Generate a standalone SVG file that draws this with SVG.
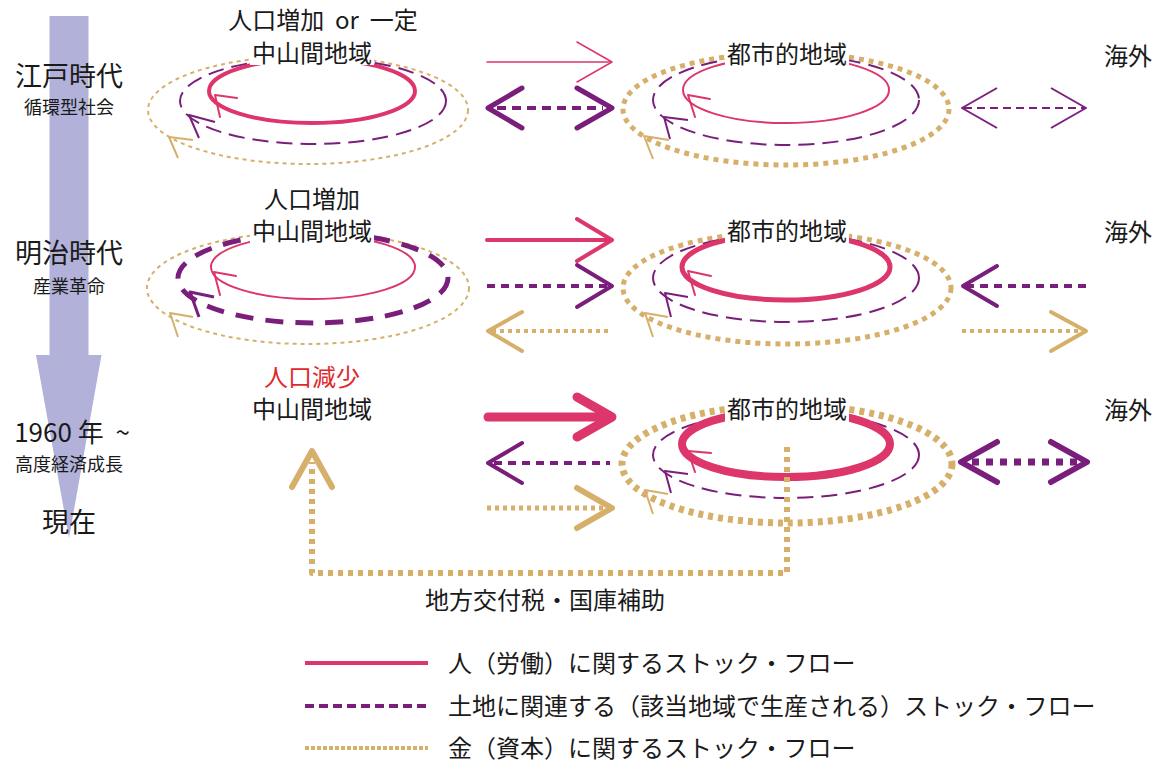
<svg xmlns="http://www.w3.org/2000/svg" width="1159" height="762" viewBox="0 0 1159 762">
<style>
text{font-family:"Noto Sans CJK JP","Noto Sans",sans-serif;fill:#1a1a1a}
.t24{font-size:24px}.mid{text-anchor:middle}
.pk{stroke:#dc366b;fill:none;stroke-linecap:round;stroke-linejoin:round}
.pu{stroke:#7a1e7b;fill:none;stroke-linejoin:round}
.go{stroke:#d6b06b;fill:none;stroke-linejoin:round}
.pud{stroke-dasharray:16 8}
.gth{stroke-dasharray:4 4}
.gtk{stroke-dasharray:5 5}
.cap{stroke-linecap:round}
.bg{fill:#fff}
</style>
<rect width="1159" height="762" fill="#fff"/>
<g id="timeline">
<polygon points="49.5,16 88.5,16 88.5,355 101.5,355 69,538 36,355 49.5,355" fill="#b1b1d9"/>
<text x="69" y="86" class="mid" font-size="27">江戸時代</text>
<text x="69" y="114" class="mid" font-size="18">循環型社会</text>
<text x="69" y="263" class="mid" font-size="27">明治時代</text>
<text x="69" y="293" class="mid" font-size="18">産業革命</text>
<text x="72" y="442" class="mid" font-size="26">1960 年&#160;&#160;~</text>
<text x="69" y="471" class="mid" font-size="18">高度経済成長</text>
<text x="69" y="532" class="mid" font-size="27">現在</text>
</g>
<g id="edo-rural">
<ellipse cx="308" cy="110" rx="160" ry="54" class="go gth" stroke-width="2"/>
<polyline points="193,140 169,137 178,158" class="go" stroke-width="2"/>
<ellipse cx="313" cy="101" rx="133" ry="43" class="pu pud" stroke-width="2"/>
<polyline points="215,122 189,115 199,138" class="pu" stroke-width="2"/>
<ellipse cx="312" cy="91" rx="103" ry="32" class="pk" stroke-width="4"/>
<polyline points="237,98 215,95 220,117" class="pk" stroke-width="2"/>
<rect x="250" y="42" width="124" height="23" class="bg"/>
<text x="323" y="29" class="t24 mid">人口増加&#160;&#160;or&#160;&#160;一定</text>
<text x="312" y="62" class="t24 mid">中山間地域</text>
</g>
<g id="edo-urban">
<ellipse cx="786" cy="109" rx="163" ry="56" class="go gtk" stroke-width="5"/>
<polyline points="669,140 644,136 653,159" class="go" stroke-width="2"/>
<ellipse cx="786" cy="100" rx="133" ry="45" class="pu pud" stroke-width="2"/>
<polyline points="688,120 664,117 670,139" class="pu" stroke-width="2"/>
<ellipse cx="786" cy="90" rx="103" ry="33" class="pk" stroke-width="2"/>
<polyline points="710,99 688,95 695,117" class="pk" stroke-width="2"/>
<rect x="725" y="42" width="124" height="24" class="bg"/>
<text x="787" y="63" class="t24 mid">都市的地域</text>
</g>
<g id="edo-overseas"><text x="1128" y="65" class="t24 mid">海外</text></g>
<g id="meiji-rural">
<ellipse cx="308" cy="288" rx="161" ry="56" class="go gth" stroke-width="2"/>
<polyline points="193,317 170,313 178,337" class="go" stroke-width="2"/>
<ellipse cx="313" cy="278" rx="135" ry="45" class="pu" stroke-width="5" stroke-dasharray="18 12"/>
<polyline points="214,297 190,292 199,317" class="pu" stroke-width="3"/>
<ellipse cx="313" cy="267" rx="102" ry="32" class="pk" stroke-width="2"/>
<polyline points="236,276 214,272 220,295" class="pk" stroke-width="2"/>
<rect x="250" y="220" width="124" height="23" class="bg"/>
<text x="312" y="208" class="t24 mid">人口増加</text>
<text x="312" y="240" class="t24 mid">中山間地域</text>
</g>
<g id="meiji-urban">
<ellipse cx="787" cy="288" rx="164" ry="56" class="go gtk" stroke-width="5"/>
<polyline points="668,317 645,313 653,337" class="go" stroke-width="2"/>
<ellipse cx="786" cy="278" rx="133" ry="44" class="pu pud" stroke-width="2"/>
<polyline points="688,297 665,293 671,317" class="pu" stroke-width="2"/>
<ellipse cx="786" cy="267" rx="104" ry="33" class="pk" stroke-width="5"/>
<polyline points="711,276 688,271 695,295" class="pk" stroke-width="2"/>
<rect x="725" y="219" width="124" height="25" class="bg"/>
<text x="787" y="240" class="t24 mid">都市的地域</text>
</g>
<g id="meiji-overseas"><text x="1128" y="241" class="t24 mid">海外</text></g>
<g id="modern-rural">
<text x="312" y="386" class="t24 mid" style="fill:#e0282c">人口減少</text>
<text x="312" y="418" class="t24 mid">中山間地域</text>
</g>
<g id="modern-urban">
<ellipse cx="787" cy="464" rx="165" ry="59" class="go gtk" stroke-width="7"/>
<polyline points="668,494 645,490 653,514" class="go" stroke-width="2"/>
<ellipse cx="786" cy="455" rx="133" ry="43" class="pu pud" stroke-width="2"/>
<polyline points="688,474 665,471 671,493" class="pu" stroke-width="2"/>
<ellipse cx="786" cy="444" rx="104" ry="33" class="pk" stroke-width="8"/>
<polyline points="711,453 688,451 695,472" class="pk" stroke-width="2"/>
<rect x="725" y="397" width="124" height="25" class="bg"/>
<text x="787" y="418" class="t24 mid">都市的地域</text>
</g>
<g id="modern-overseas"><text x="1128" y="419" class="t24 mid">海外</text></g>
<g id="connectors">
<line x1="487" y1="62" x2="611" y2="62" class="pk" stroke-width="1.5"/>
<polyline points="577,42 612,62 577,82" class="pk" stroke-width="1.5"/>
<line x1="497" y1="108" x2="603" y2="108" class="pu" stroke-width="4" stroke-dasharray="9 6"/>
<polyline points="522,88 488,108 522,128" class="pu cap" stroke-width="5"/>
<polyline points="577,88 612,108 577,128" class="pu cap" stroke-width="5"/>
<line x1="964" y1="108" x2="1084" y2="108" class="pu" stroke-width="2" stroke-dasharray="8 5"/>
<polyline points="997,88 962,108 997,128" class="pu" stroke-width="2"/>
<polyline points="1051,88 1086,108 1051,128" class="pu" stroke-width="2"/>
<line x1="487" y1="240" x2="611" y2="240" class="pk" stroke-width="4"/>
<polyline points="577,219 612,240 577,261" class="pk" stroke-width="4"/>
<line x1="487" y1="286" x2="608" y2="286" class="pu" stroke-width="4" stroke-dasharray="8 6"/>
<polyline points="577,265 612,286 577,307" class="pu cap" stroke-width="4"/>
<line x1="492" y1="331" x2="612" y2="331" class="go" stroke-width="4" stroke-dasharray="4 4"/>
<polyline points="522,312 488,331 522,351" class="go cap" stroke-width="4"/>
<line x1="966" y1="286" x2="1086" y2="286" class="pu" stroke-width="4" stroke-dasharray="8 6"/>
<polyline points="997,266 963,286 997,306" class="pu cap" stroke-width="4"/>
<line x1="962" y1="331" x2="1082" y2="331" class="go" stroke-width="4" stroke-dasharray="4 4"/>
<polyline points="1051,312 1086,331 1051,351" class="go cap" stroke-width="4"/>
<line x1="488" y1="417" x2="609" y2="417" class="pk" stroke-width="9"/>
<polyline points="577,397 612,417 577,437" class="pk" stroke-width="9"/>
<line x1="494" y1="463" x2="610" y2="463" class="pu" stroke-width="4" stroke-dasharray="8 6"/>
<polyline points="522,443 488,463 522,483" class="pu cap" stroke-width="4"/>
<line x1="487" y1="508" x2="607" y2="508" class="go" stroke-width="5" stroke-dasharray="4 4"/>
<polyline points="577,488 612,508 577,528" class="go cap" stroke-width="6"/>
<line x1="972" y1="462" x2="1078" y2="462" class="pu" stroke-width="7" stroke-dasharray="7 7"/>
<polyline points="997,442 961,462 997,482" class="pu cap" stroke-width="6"/>
<polyline points="1051,442 1087,462 1051,482" class="pu cap" stroke-width="6"/>
<polyline points="787,447 787,573 312,573 312,462" class="go" stroke-width="6" stroke-dasharray="5 5"/>
<polyline points="292,487 312,451 332,487" class="go cap" stroke-width="6"/>
<text x="545" y="609" class="t24 mid">地方交付税・国庫補助</text>
</g>
<g id="legend">
<line x1="305" y1="663" x2="428" y2="663" stroke="#dc366b" stroke-width="4"/>
<text x="448" y="672" class="t24">人（労働）に関するストック・フロー</text>
<line x1="305" y1="706" x2="428" y2="706" stroke="#7a1e7b" stroke-width="4" stroke-dasharray="9 5"/>
<text x="448" y="715" class="t24">土地に関連する（該当地域で生産される）ストック・フロー</text>
<line x1="305" y1="748" x2="428" y2="748" stroke="#d6b06b" stroke-width="4" stroke-dasharray="4 2"/>
<text x="448" y="757" class="t24">金（資本）に関するストック・フロー</text>
</g>
</svg>
